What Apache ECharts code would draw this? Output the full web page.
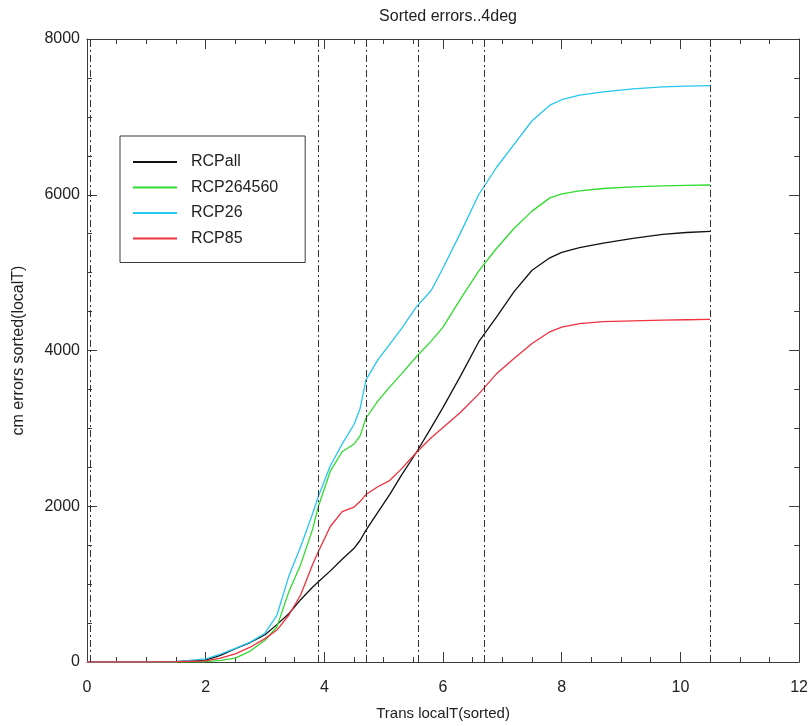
<!DOCTYPE html>
<html>
<head>
<meta charset="utf-8">
<title>Sorted errors..4deg</title>
<script src="https://cdn.jsdelivr.net/npm/echarts@6/dist/echarts.min.js"></script>
<style>
  html, body { margin: 0; padding: 0; background: #ffffff; }
  #chart { width: 811px; height: 726px; }
</style>
</head>
<body>
<div id="chart"></div>
<script>
// Sorted transient local temperature (x) shared by every curve
var transLocalT = [0, 1.0, 1.5, 2.0, 2.25, 2.5, 2.75, 3.0, 3.2, 3.4, 3.6, 3.8, 3.9, 4.1, 4.3, 4.5, 4.6, 4.7,
  4.9, 5.1, 5.3, 5.55, 5.8, 6.0, 6.3, 6.6, 6.9, 7.2, 7.5, 7.8, 8.0, 8.3, 8.7, 9.2, 9.7, 10.1, 10.5];

// Cumulative sorted errors for each scenario group
var rcpAll = [0, 0, 5, 25, 85, 170, 250, 350, 480, 620, 800, 960, 1030, 1170, 1320, 1460, 1560, 1690,
  1920, 2150, 2400, 2690, 3010, 3270, 3680, 4110, 4430, 4760, 5030, 5190, 5260, 5320, 5380, 5440, 5490, 5515, 5530];
var rcp264560 = [0, 0, 0, 5, 20, 50, 140, 280, 450, 900, 1250, 1700, 2000, 2450, 2700, 2800, 2900, 3130,
  3350, 3530, 3700, 3920, 4120, 4300, 4670, 5020, 5310, 5570, 5790, 5960, 6010, 6050, 6080, 6100, 6115, 6120, 6125];
var rcp26 = [0, 0, 5, 40, 100, 175, 255, 370, 600, 1100, 1480, 1900, 2130, 2520, 2800, 3050, 3250, 3620,
  3880, 4080, 4280, 4560, 4770, 5060, 5520, 6000, 6350, 6650, 6950, 7150, 7220, 7280, 7320, 7360, 7385, 7395, 7400];
var rcp85 = [0, 0, 3, 15, 50, 105, 190, 300, 410, 600, 860, 1250, 1420, 1740, 1930, 1990, 2060, 2150,
  2250, 2330, 2480, 2690, 2880, 3010, 3210, 3440, 3700, 3900, 4090, 4240, 4300, 4345, 4370, 4380, 4390, 4395, 4400];

// Dash-dot reference positions along the x axis
var markerX = [0.06, 3.9, 4.7, 5.58, 6.7, 10.5];

var seriesNames = ['RCPall', 'RCP264560', 'RCP26', 'RCP85'];
var seriesValues = [rcpAll, rcp264560, rcp26, rcp85];
var seriesColors = ['#111111', '#2fdc2f', '#27c6ef', '#f0313f'];

var FONT = '"Liberation Sans", Arial, Helvetica, sans-serif';

function pairs(xs, ys) {
  return xs.map(function (x, i) { return [x, ys[i]]; });
}

var series = seriesNames.map(function (name, i) {
  var s = {
    name: name,
    type: 'line',
    data: pairs(transLocalT, seriesValues[i]),
    showSymbol: false,
    symbol: 'none',
    lineStyle: { color: seriesColors[i], width: 1.3 },
    itemStyle: { color: seriesColors[i] },
    z: 3
  };
  if (i === 0) {
    s.markLine = {
      silent: true,
      symbol: 'none',
      label: { show: false },
      lineStyle: { type: [7, 3, 2, 3], color: '#333333', width: 1 },
      data: markerX.map(function (v) { return { xAxis: v }; })
    };
  }
  return s;
});

var axisLineStyle = { color: '#3a3a3a', width: 1 };

function plainNumber(v) { return String(v); }

function xAxisDef(pos, showLabels) {
  return {
    type: 'value',
    position: pos,
    min: 0, max: 12, interval: 2,
    name: showLabels ? 'Trans localT(sorted)' : '',
    nameLocation: 'middle',
    nameGap: 44,
    nameTextStyle: { fontFamily: FONT, fontSize: 15, color: '#222' },
    axisLine: { show: true, onZero: false, lineStyle: axisLineStyle },
    axisTick: { show: true, inside: true, length: 10, lineStyle: axisLineStyle },
    minorTick: { show: true, splitNumber: 4, length: 5, lineStyle: axisLineStyle },
    axisLabel: { show: showLabels, fontFamily: FONT, fontSize: 16, color: '#222', margin: 18, formatter: plainNumber },
    splitLine: { show: false },
    minorSplitLine: { show: false }
  };
}

function yAxisDef(pos, showLabels) {
  return {
    type: 'value',
    position: pos,
    min: 0, max: 8000, interval: 2000,
    name: showLabels ? 'cm errors sorted(localT)' : '',
    nameLocation: 'middle',
    nameGap: 60,
    nameTextStyle: { fontFamily: FONT, fontSize: 16, color: '#222' },
    axisLine: { show: true, onZero: false, lineStyle: axisLineStyle },
    axisTick: { show: true, inside: true, length: 10, lineStyle: axisLineStyle },
    minorTick: { show: true, splitNumber: 4, length: 5, lineStyle: axisLineStyle },
    axisLabel: { show: showLabels, fontFamily: FONT, fontSize: 16, color: '#222', margin: 7, formatter: plainNumber },
    splitLine: { show: false },
    minorSplitLine: { show: false }
  };
}

var chart = echarts.init(document.getElementById('chart'), null, { renderer: 'canvas' });
chart.setOption({
  backgroundColor: '#ffffff',
  animation: false,
  title: {
    text: 'Sorted errors..4deg',
    left: 443,
    top: 4,
    textAlign: 'center',
    textStyle: { fontFamily: FONT, fontSize: 16, fontWeight: 'normal', color: '#222' }
  },
  legend: {
    orient: 'vertical',
    left: 120,
    top: 136,
    padding: [18, 27, 16, 13],
    itemGap: 9.5,
    itemWidth: 44,
    itemHeight: 2,
    icon: 'rect',
    borderColor: '#3a3a3a',
    borderWidth: 1,
    backgroundColor: '#ffffff',
    textStyle: { fontFamily: FONT, fontSize: 16, color: '#222', lineHeight: 16, padding: [0, 0, 0, 9] },
    data: seriesNames
  },
  grid: { left: 87, right: 11, top: 39, bottom: 64, containLabel: false },
  xAxis: [xAxisDef('bottom', true), xAxisDef('top', false)],
  yAxis: [yAxisDef('left', true), yAxisDef('right', false)],
  series: series
});
</script>
</body>
</html>
